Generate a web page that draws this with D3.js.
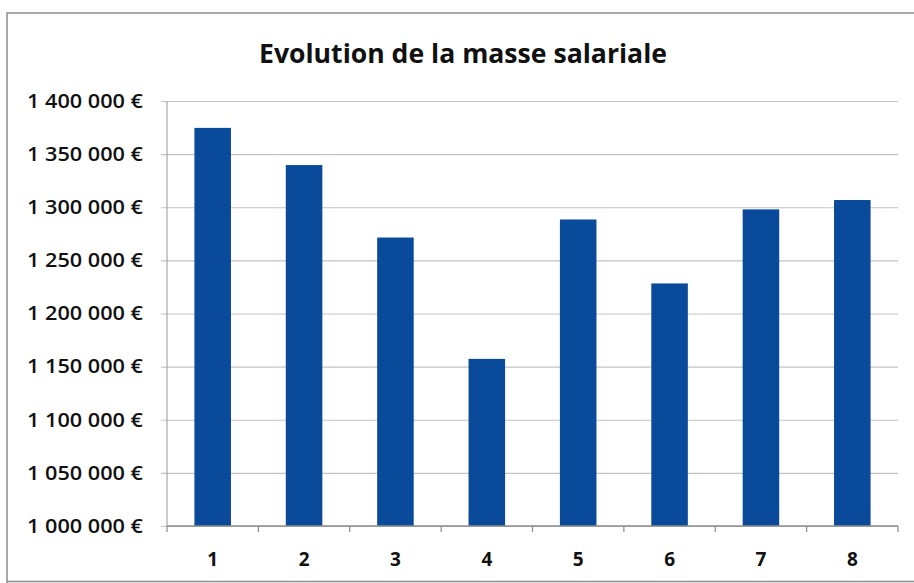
<!DOCTYPE html>
<html>
<head>
<meta charset="utf-8">
<script src="https://cdn.jsdelivr.net/npm/d3@7"></script>
<style>
  body { margin: 0; background: #fff; }
  svg { display: block; }
</style>
</head>
<body>
<div id="chart"></div>
<script>
// Data.
const categories = ["1", "2", "3", "4", "5", "6", "7", "8"];
const salaryMass = [1374700, 1339700, 1271500, 1157300, 1288500, 1228300, 1298000, 1306800];
const yTicks = [1000000, 1050000, 1100000, 1150000, 1200000, 1250000, 1300000, 1350000, 1400000];

const width = 914, height = 583;
const margin = { top: 101, right: 16, bottom: 57, left: 167 };
const chartWidth = width - margin.left - margin.right;
const chartHeight = height - margin.top - margin.bottom;

const svg = d3.select("#chart")
  .append("svg")
  .attr("width", width)
  .attr("height", height);

// Outer frame of the chart object.
svg.append("path")
  .attr("d", `M7,583 L7,13 L914,13 M7,581.5 L914,581.5`)
  .attr("fill", "none")
  .attr("stroke", "#8c8c8c")
  .attr("stroke-width", 1.5);

// Title.
svg.append("text")
  .attr("x", 463)
  .attr("y", 63)
  .attr("text-anchor", "middle")
  .attr("font-family", "'Open Sans', sans-serif")
  .attr("font-weight", "bold")
  .attr("font-size", "27px")
  .attr("textLength", 408)
  .attr("lengthAdjust", "spacingAndGlyphs")
  .attr("fill", "#111")
  .text("Evolution de la masse salariale");

const g = svg.append("g")
  .attr("transform", `translate(${margin.left}, ${margin.top})`);

const x = d3.scaleBand()
  .domain(categories)
  .range([0, chartWidth])
  .paddingInner(0.6)
  .paddingOuter(0.3);

const y = d3.scaleLinear()
  .domain([1000000, 1400000])
  .range([chartHeight, 0]);

const fmt = v => d3.format(",")(v).replace(/,/g, " ") + " €";

// Gridlines with outward ticks.
g.append("g")
  .call(d3.axisLeft(y).tickValues(yTicks).tickSize(-chartWidth).tickSizeOuter(0).tickFormat(""))
  .call(a => a.select(".domain").remove())
  .call(a => a.selectAll(".tick line")
    .attr("x1", -6)
    .attr("stroke", "#c4c4c4")
    .attr("stroke-width", 1.2));

// Y labels.
g.append("g")
  .selectAll("text")
  .data(yTicks)
  .join("text")
  .attr("x", -24)
  .attr("y", d => y(d))
  .attr("dy", "0.36em")
  .attr("text-anchor", "end")
  .attr("font-family", "'Open Sans', sans-serif")
  .attr("font-weight", 600)
  .attr("font-size", "19px")
  .attr("textLength", 116)
  .attr("lengthAdjust", "spacingAndGlyphs")
  .attr("fill", "#111")
  .text(fmt);

// Bars.
g.selectAll("rect.bar")
  .data(salaryMass)
  .join("rect")
  .attr("class", "bar")
  .attr("x", (d, i) => x(categories[i]))
  .attr("y", d => y(d))
  .attr("width", x.bandwidth())
  .attr("height", d => chartHeight - y(d))
  .attr("fill", "#0a4a9a");

// Vertical axis line.
g.append("line")
  .attr("x1", 0).attr("x2", 0)
  .attr("y1", 0).attr("y2", chartHeight)
  .attr("stroke", "#a8a8a8")
  .attr("stroke-width", 1.2);

// Horizontal axis with ticks between categories.
const step = x.step();
const xAxis = g.append("g").attr("transform", `translate(0, ${chartHeight})`);
xAxis.append("line")
  .attr("x1", 0).attr("x2", chartWidth)
  .attr("stroke", "#8c8c8c")
  .attr("stroke-width", 1.5);
xAxis.selectAll("line.tick")
  .data(d3.range(categories.length + 1))
  .join("line")
  .attr("class", "tick")
  .attr("x1", i => i * step).attr("x2", i => i * step)
  .attr("y1", 0).attr("y2", 6)
  .attr("stroke", "#8c8c8c")
  .attr("stroke-width", 1.2);
xAxis.selectAll("text")
  .data(categories)
  .join("text")
  .attr("x", d => x(d) + x.bandwidth() / 2)
  .attr("y", 40)
  .attr("text-anchor", "middle")
  .attr("font-family", "'Open Sans', sans-serif")
  .attr("font-weight", "bold")
  .attr("font-size", "19px")
  .attr("fill", "#111")
  .text(d => d);
</script>
</body>
</html>
